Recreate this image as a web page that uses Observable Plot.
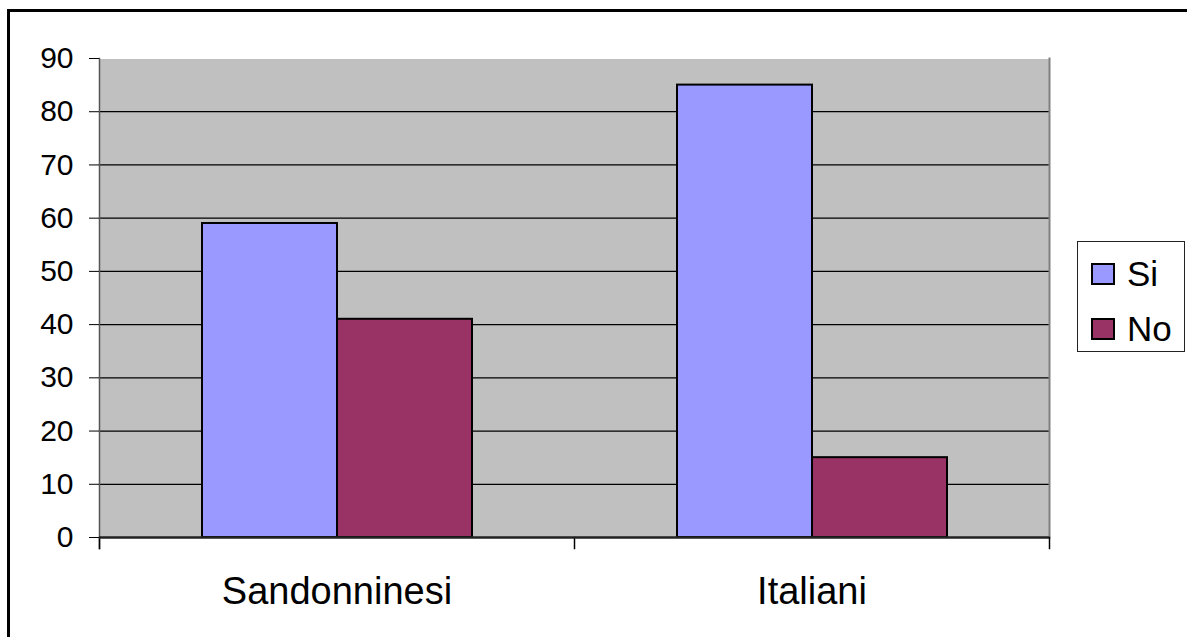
<!DOCTYPE html>
<html><head><meta charset="utf-8">
<script src="https://cdn.jsdelivr.net/npm/d3@7"></script>
<script src="https://cdn.jsdelivr.net/npm/@observablehq/plot@0.6"></script>
<style>
html,body{margin:0;padding:0;background:#fff;overflow:hidden;width:1187px;height:637px;}
#wrap{position:relative;width:1187px;height:637px;font-family:"Liberation Sans",Arial,sans-serif;}
#chart svg{display:block;background:transparent;}
#frame{position:absolute;left:7px;top:9px;width:1300px;height:800px;border:3px solid #000;pointer-events:none;}
#legend{position:absolute;left:1077px;top:241px;width:108px;height:111px;box-sizing:border-box;border:1px solid #222;background:#fff;}
.row{position:absolute;left:13px;height:40px;display:flex;align-items:center;font-size:35px;color:#000;}
.sw{width:24px;height:22px;box-sizing:border-box;border:2px solid #000;margin-right:12px;}
</style>
</head><body>
<div id="wrap"><div id="chart"></div><div id="frame"></div><div id="legend"></div></div>
<script>
const categories = ["Sandonninesi", "Italiani"];
const series = ["Si", "No"];
const siValues = [59, 85];
const noValues = [41, 15];
const yTicks = [0, 10, 20, 30, 40, 50, 60, 70, 80, 90];
const colors = ["#9999FF", "#993366"];

const data = [];
categories.forEach((c, i) => {
  data.push({cat: c, series: "Si", value: siValues[i]});
  data.push({cat: c, series: "No", value: noValues[i]});
});

const W = 1187, H = 637, mT = 58, mB = 100, mL = 98, mR = 138;
const innerH = H - mT - mB;

const plot = Plot.plot({
  width: W, height: H,
  marginTop: mT, marginBottom: mB, marginLeft: mL, marginRight: mR,
  style: {fontFamily: "'Liberation Sans', Arial, sans-serif", background: "transparent", color: "#000"},
  fx: {domain: categories, padding: 0, label: null},
  x: {domain: series, paddingInner: 0, paddingOuter: 0.75, axis: null},
  y: {domain: [0, 90], label: null},
  color: {domain: series, range: colors},
  marks: [
    Plot.frame({fill: "#C0C0C0", shapeRendering: "crispEdges"}),
    Plot.gridY(yTicks.filter(d => d > 0 && d < 90), {stroke: "#000", strokeOpacity: 1, strokeWidth: 1.2}),
    Plot.frame({anchor: "right", fx: () => "Italiani", stroke: "#808080", strokeWidth: 2}),
    Plot.frame({anchor: "left", fx: () => "Sandonninesi", stroke: "#555", strokeWidth: 1.5, insetBottom: -11}),
    Plot.frame({anchor: "left", stroke: "#000", strokeWidth: 1.5, insetTop: innerH, insetBottom: -11}),
    Plot.frame({anchor: "right", fx: () => "Italiani", stroke: "#000", strokeWidth: 1.5, insetTop: innerH, insetBottom: -11}),
    Plot.barY(data, {fx: "cat", x: "series", y: "value", fill: "series", stroke: "#000", strokeWidth: 2}),
    Plot.ruleY([0], {stroke: "#222", strokeWidth: 2.5}),
    Plot.axisY({ticks: yTicks, tickSize: 10, tickPadding: 16, fontSize: 30, stroke: "#000", label: null}),
    Plot.axisFx({anchor: "bottom", tickSize: 0, tickPadding: 40, fontSize: 38, label: null})
  ]
});
document.getElementById("chart").appendChild(plot);

const legend = document.getElementById("legend");
const rowTops = [12, 67];
series.forEach((s, i) => {
  const row = document.createElement("div");
  row.className = "row";
  row.style.top = rowTops[i] + "px";
  const sw = document.createElement("div");
  sw.className = "sw";
  sw.style.background = colors[i];
  const t = document.createElement("span");
  t.textContent = s;
  row.appendChild(sw);
  row.appendChild(t);
  legend.appendChild(row);
});
</script>
</body></html>
